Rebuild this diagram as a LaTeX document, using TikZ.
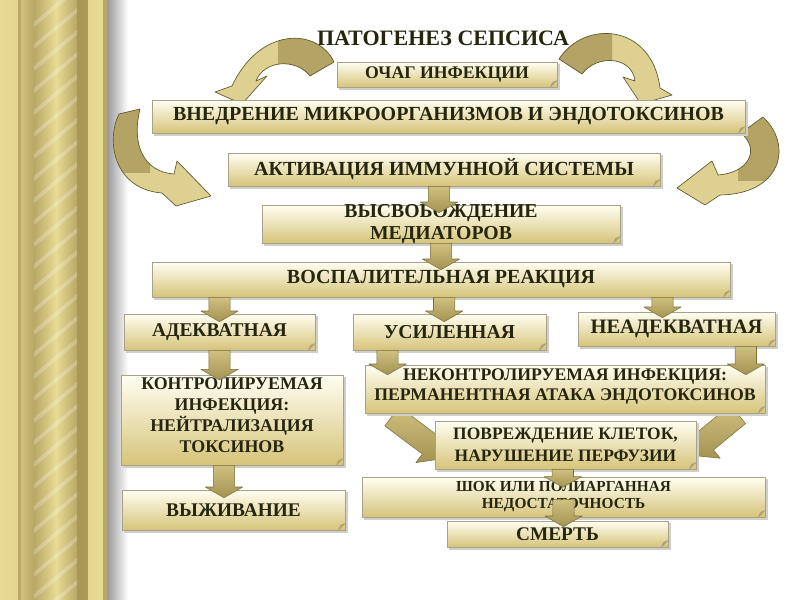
\documentclass[tikz,border=0pt]{standalone}
\usepackage{fontspec}
\setmainfont{Liberation Serif}
\usetikzlibrary{calc}
\definecolor{boxtop}{HTML}{FFFEF2}
\definecolor{boxbot}{HTML}{D6C47A}
\definecolor{boxedge}{HTML}{A8A28A}
\definecolor{boxshadow}{HTML}{CFCFC8}
\definecolor{foldc}{HTML}{B8A45E}
\definecolor{txtc}{HTML}{26260F}
\definecolor{arrtop}{HTML}{CFC080}
\definecolor{arrbot}{HTML}{A49452}
\definecolor{arredge}{HTML}{7A6F3A}
\definecolor{curvdark}{HTML}{B3A466}
\definecolor{curvlight}{HTML}{DDD090}
\definecolor{curvedge}{HTML}{5E5830}
\definecolor{goldA}{HTML}{E8DB95}
\definecolor{goldB}{HTML}{B8A866}
\definecolor{goldC}{HTML}{D2C27E}
\definecolor{goldD}{HTML}{A89858}
\pgfdeclarelayer{bg}
\pgfdeclarelayer{back}
\pgfsetlayers{bg,back,main}
\tikzset{
 gbox/.style={draw=boxedge, line width=0.5pt, top color=boxtop, bottom color=boxbot,
   align=center, text=txtc, inner sep=0pt},
 blockarrow/.style={draw=arredge, line width=0.4pt, top color=arrtop, bottom color=arrbot, line join=round},
}
\newcommand\gbox[5]{%
  \pgfmathsetmacro\bw{(#3-#1)*0.75}%
  \pgfmathsetmacro\bh{(#4-#2)*0.75}%
  \fill[boxshadow] (#1+2,#2+2) rectangle (#3+2.5,#4+2.5);
  \node[gbox, minimum width=\bw pt, minimum height=\bh pt] (#5) at ({(#1+#3)/2},{(#2+#4)/2}) {};
}
\newcommand\gtext[4]{\node[align=center, text=txtc, inner sep=0pt, font=\bfseries\fontsize{#1}{#2}\selectfont] at (#3) {#4};}
\newcommand\gfold[1]{\fill[foldc, draw=boxedge, line width=0.3pt] ($(#1.south east)+(-7,0)$) -- ($(#1.south east)+(0,-7)$) -- ($(#1.south east)+(-5,-5)$) -- cycle;}
\newcommand\barrow[5]{%
  \coordinate (ba) at (#1);
  \coordinate (bb) at (#2);
  \coordinate (bh) at ($(bb)!#5!(ba)$);
  \path[blockarrow] ($(ba)!#3!90:(bb)$) -- ($(bh)!#3!-90:(ba)$) -- ($(bh)!#4!-90:(ba)$) -- (bb)
    -- ($(bh)!#4!90:(ba)$) -- ($(bh)!#3!90:(ba)$) -- ($(ba)!#3!-90:(bb)$) -- cycle;
}
\newcommand\twotone[2]{%
  \fill[curvlight] #1;
  \begin{scope}\clip #2; \fill[curvdark] #1; \end{scope}
  \draw[curvedge, line width=0.5pt, line join=round] #1;
}
\begin{document}
\begin{tikzpicture}[x=0.75pt,y=-0.75pt]
\useasboundingbox (0,0) rectangle (800,600);
\begin{pgfonlayer}{bg}
\fill[white] (0,0) rectangle (800,600);
\end{pgfonlayer}
% ---- left golden bar ----
\shade[left color=goldA, right color=goldA!90!goldB] (0,0) rectangle (18,600);
\fill[goldB] (18,0) rectangle (21,600);
\shade[left color=goldC, right color=goldB] (21,0) rectangle (34,600);
\shade[left color=goldB, right color=goldA] (34,0) rectangle (56,600);
\shade[left color=goldA, right color=goldB] (56,0) rectangle (77,600);
\shade[left color=goldD, right color=goldD!80!goldB] (77,0) rectangle (88,600);
\shade[left color=goldA!90!goldB, right color=goldA] (88,0) rectangle (103,600);
\fill[goldB] (103,0) rectangle (107,600);
\begin{scope}
  \clip (34,0) rectangle (77,600);
  \foreach \k in {0,...,28} {
    \fill[white, opacity=0.22] (34,{\k*22+22}) -- (77,{\k*22-14}) -- (77,{\k*22-9}) -- (34,{\k*22+27}) -- cycle;
  }
\end{scope}
\shade[left color=black!40, right color=white] (107,0) rectangle (128,600);
% ---- title ----
\node[font=\bfseries\fontsize{16.5}{19}\selectfont, text=txtc] (title) at (443,38) {ПАТОГЕНЕЗ СЕПСИСА};
% ---- curved arrows ----
\twotone{(334,62) .. controls (318,28) and (260,26) .. (232,86) -- (215,92) -- (242,104) -- (267,76) -- (256,81) .. controls (264,60) and (296,58) .. (310,76) -- cycle}{(278,20) rectangle (340,95)}
\twotone{(559,59) .. controls (585,19) and (652,24) .. (660,88) -- (672,95) -- (641,104) -- (623,77) -- (635,81) .. controls (632,56) and (597,54) .. (582,74) -- cycle}{(540,20) rectangle (612,95)}
\twotone{(119,114) .. controls (106,140) and (113,189) .. (162,193) -- (176,206) -- (211,196) -- (177,161) -- (174,174) .. controls (144,172) and (131,145) .. (140,109) -- cycle}{(100,100) rectangle (150,172)}
\twotone{(763,117) .. controls (793,145) and (782,194) .. (720,195) -- (705,205) -- (677,188) -- (712,161) -- (718,175) .. controls (748,173) and (761,150) .. (741,133) -- cycle}{(738,100) rectangle (800,180)}
% ---- boxes ----
\gbox{337}{62}{557}{87}{ochag}
\gbox{152}{100}{745}{133}{vnedr}
\gbox{228}{153}{660}{186}{aktiv}
\gbox{262}{205}{620}{243}{vysv}
\gbox{152}{262}{730}{297}{vosp}
\gbox{124}{314}{315}{350}{adek}
\gbox{353}{314}{546}{350}{usil}
\gbox{578}{312}{775}{346}{neadek}
\gbox{121}{375}{343}{465}{kontr}
\gbox{122}{490}{345}{530}{vyzh}
\gbox{365}{365}{765}{413}{nekontr}
\gbox{435}{421}{696}{469}{povr}
\gbox{362}{477}{765}{517}{shok}
\gbox{447}{521}{668}{547}{smert}
\foreach \b in {ochag,vnedr,aktiv,vysv,vosp,adek,usil,neadek,kontr,vyzh,nekontr,povr,shok,smert} {\gfold{\b}}
% ---- texts ----
\gtext{13.3}{16}{ochag}{ОЧАГ ИНФЕКЦИИ}
\gtext{15}{17}{vnedr}{ВНЕДРЕНИЕ МИКРООРГАНИЗМОВ И ЭНДОТОКСИНОВ}
\gtext{15}{17}{aktiv}{АКТИВАЦИЯ ИММУННОЙ СИСТЕМЫ}
\gtext{14.8}{16.5}{vysv}{ВЫСВОБОЖДЕНИЕ\\МЕДИАТОРОВ}
\gtext{15}{17}{vosp}{ВОСПАЛИТЕЛЬНАЯ РЕАКЦИЯ}
\gtext{14.6}{17}{adek}{АДЕКВАТНАЯ}
\gtext{14.8}{17}{usil}{УСИЛЕННАЯ}
\gtext{15.4}{17}{neadek}{НЕАДЕКВАТНАЯ}
\gtext{13.4}{15.75}{$(kontr)+(0,-5)$}{КОНТРОЛИРУЕМАЯ\\ИНФЕКЦИЯ:\\НЕЙТРАЛИЗАЦИЯ\\ТОКСИНОВ}
\gtext{14.5}{17}{vyzh}{ВЫЖИВАНИЕ}
\gtext{13.3}{15}{$(nekontr)+(0,-2)$}{НЕКОНТРОЛИРУЕМАЯ ИНФЕКЦИЯ:\\ПЕРМАНЕНТНАЯ АТАКА ЭНДОТОКСИНОВ}
\gtext{13.1}{16.5}{povr}{ПОВРЕЖДЕНИЕ КЛЕТОК,\\НАРУШЕНИЕ ПЕРФУЗИИ}
\gtext{11.5}{12.75}{shok}{ШОК ИЛИ ПОЛИАРГАННАЯ\\НЕДОСТАТОЧНОСТЬ}
\gtext{14.5}{17}{smert}{СМЕРТЬ}
% ---- block arrows ----
\barrow{[xshift=-3.75pt]aktiv.south}{[yshift=-6pt]ba |- vysv.north}{8pt}{14pt}{8pt}
\barrow{vysv.south}{[yshift=-6pt]ba |- vosp.north}{8pt}{14pt}{8pt}
\barrow{vosp.south -| adek.north}{[yshift=-6pt]ba |- adek.north}{8pt}{14pt}{8pt}
\barrow{[xshift=-4pt]vosp.south -| usil.north}{[yshift=-6pt]ba |- usil.north}{8pt}{14pt}{8pt}
\barrow{[xshift=-10.5pt]vosp.south -| neadek.north}{[yshift=-4.5pt]ba |- neadek.north}{8pt}{14pt}{8pt}
\barrow{adek.south}{[yshift=-4pt]ba |- kontr.north}{8pt}{14pt}{8pt}
\barrow{[xshift=-46.5pt]usil.south}{[yshift=-7.5pt]ba |- nekontr.north}{8pt}{14pt}{8pt}
\barrow{[xshift=52pt]neadek.south}{[yshift=-7.5pt]ba |- nekontr.north}{8pt}{14pt}{8pt}
\barrow{[xshift=-6pt]kontr.south}{[yshift=-6pt]ba |- vyzh.north}{8pt}{14pt}{8pt}
\barrow{[xshift=-2pt]povr.south}{[yshift=-8pt]ba |- shok.north}{8pt}{14pt}{8pt}
\barrow{[yshift=-2pt]shok.center}{[yshift=-4.5pt]ba |- smert.north}{8pt}{14pt}{8pt}
\begin{pgfonlayer}{back}
\barrow{[xshift=-129.75pt,yshift=-2.25pt]nekontr.south}{[xshift=9.75pt,yshift=-9.75pt]povr.west}{9pt}{17pt}{17pt}
\barrow{[xshift=129.75pt,yshift=-0.75pt]nekontr.south}{[xshift=-6pt,yshift=-7.5pt]povr.east}{9pt}{17pt}{17pt}
\end{pgfonlayer}
\end{tikzpicture}
\end{document}
